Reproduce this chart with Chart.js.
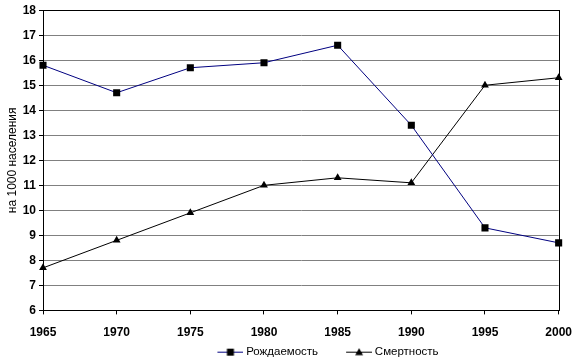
<!DOCTYPE html>
<html><head><meta charset="utf-8">
<script src="https://cdn.jsdelivr.net/npm/chart.js@4"></script>
<style>html,body{margin:0;padding:0;background:#fff}#wrap{width:583px;height:364px}</style>
</head><body><div id="wrap"><canvas id="c" width="583" height="364"></canvas></div>
<script>
const years = ['1965','1970','1975','1980','1985','1990','1995','2000'];
const birthRate = [15.8, 14.7, 15.7, 15.9, 16.6, 13.4, 9.3, 8.7];
const deathRate = [7.7, 8.8, 9.9, 11.0, 11.3, 11.1, 15.0, 15.3];
const seriesNames = ['Рождаемость', 'Смертность'];
const yTitle = 'на 1000 населения';

function legendIcon(color, shape){
  const c = document.createElement('canvas'); c.width = 56; c.height = 9;
  const x = c.getContext('2d');
  x.strokeStyle = color; x.lineWidth = 1;
  x.beginPath(); x.moveTo(30, 4.5); x.lineTo(56, 4.5); x.stroke();
  x.fillStyle = '#000';
  if (shape === 'rect') { x.fillRect(39.5, 1, 7, 7); }
  else { x.beginPath(); x.moveTo(43, 0.5); x.lineTo(47, 7.5); x.lineTo(39, 7.5); x.closePath(); x.fill(); }
  return c;
}
const icons = [legendIcon('#000080','rect'), legendIcon('#000','tri')];

const layoutPlugin = {
  id: 'layoutTweaks',
  beforeLayout(chart){
    const lg = chart.legend;
    if (lg && !lg._patched){
      const f = lg.fit.bind(lg);
      lg.fit = function(){ f(); this.height = 25.6; };
      lg._patched = true;
    }
  },
  beforeDraw(chart){
    const lg = chart.legend; if (lg) { lg.left += 34; lg.right += 34; lg.top += 9; lg.bottom += 9; }
  },
  beforeDatasetsDraw(chart){
    const a = chart.chartArea, ctx = chart.ctx;
    ctx.save(); ctx.strokeStyle = '#000'; ctx.lineWidth = 1;
    ctx.strokeRect(Math.round(a.left)+0.5, Math.round(a.top)+0.5, Math.round(a.right-a.left), Math.round(a.bottom-a.top));
    ctx.restore();
  }
};

new Chart(document.getElementById('c'), {
  type: 'line',
  data: { labels: years, datasets: [
    { label: seriesNames[0], data: birthRate, borderColor: '#000080', backgroundColor: '#000', borderWidth: 1,
      pointStyle: 'rect', pointRadius: 5, pointBorderWidth: 0, pointBackgroundColor: '#000', tension: 0 },
    { label: seriesNames[1], data: deathRate, borderColor: '#000', backgroundColor: '#000', borderWidth: 1,
      pointStyle: 'triangle', pointRadius: 4.5, pointBorderWidth: 0, pointBackgroundColor: '#000', tension: 0 }
  ]},
  options: {
    responsive: false, animation: false, devicePixelRatio: 1,
    layout: { padding: { left: 0, right: 22, top: 4, bottom: 2 } },
    plugins: {
      tooltip: { enabled: false },
      legend: { position: 'bottom',
        labels: { usePointStyle: true, pointStyleWidth: 50, padding: 1, color: '#000',
          font: { family: 'Liberation Sans, Arial, sans-serif', size: 11.5 },
          generateLabels(chart){
            return chart.data.datasets.map((d,i)=>({ text: d.label, pointStyle: icons[i], datasetIndex: i,
              fillStyle: '#000', strokeStyle: '#000', lineWidth: 0, fontColor: '#000' }));
          } } }
    },
    scales: {
      x: { offset: false,
        afterFit(s){ s.height = 26; },
        grid: { display: true, drawOnChartArea: false, color: '#000', tickLength: 4 },
        border: { color: '#000' },
        ticks: { color: '#000', maxRotation: 0, padding: 11, font: { family: 'Liberation Sans, Arial, sans-serif', size: 12, weight: 'bold' } } },
      y: { min: 6, max: 18,
        afterFit(s){ s.width = 43; },
        grid: { color: '#808080', tickColor: '#000', tickLength: 4 },
        border: { color: '#000' },
        ticks: { stepSize: 1, color: '#000', padding: 3, font: { family: 'Liberation Sans, Arial, sans-serif', size: 12, weight: 'bold' } },
        title: { display: true, text: yTitle, color: '#000', padding: { top: 5, bottom: 0 }, font: { family: 'Liberation Sans, Arial, sans-serif', size: 12 } } }
    }
  },
  plugins: [layoutPlugin]
});
</script></body></html>
